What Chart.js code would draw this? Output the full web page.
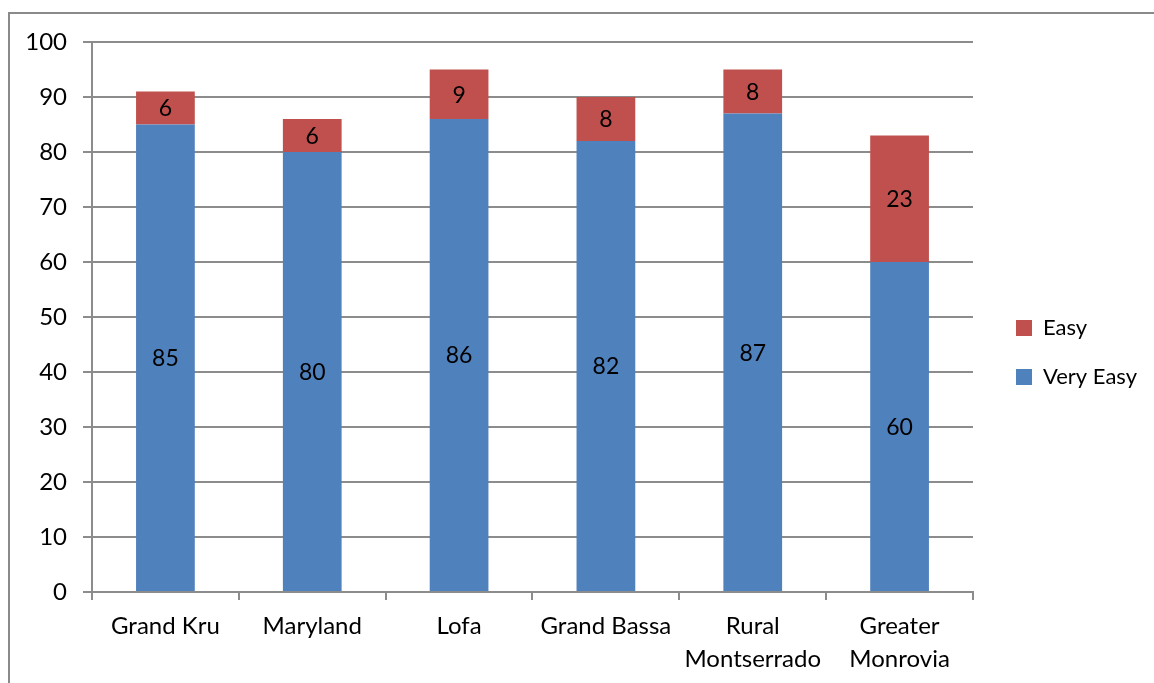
<!DOCTYPE html>
<html>
<head>
<meta charset="utf-8">
<script src="https://cdn.jsdelivr.net/npm/chart.js@4"></script>
<style>
  body { margin: 0; background: #fff; }
  #wrap { position: relative; width: 1154px; height: 683px; overflow: hidden; }
  #frame { position: absolute; left: 8px; top: 12px; width: 1300px; height: 800px;
           border-left: 2px solid #8a8a8a; border-top: 2px solid #8a8a8a; }
  canvas { position: absolute; left: 0; top: 0; }
</style>
</head>
<body>
<div id="wrap">
  <div id="frame"></div>
  <canvas id="chart1" width="1154" height="683"></canvas>
</div>
<script>
// counties and the two answer shares
var counties = ["Grand Kru", "Maryland", "Lofa", "Grand Bassa", ["Rural", "Montserrado"], ["Greater", "Monrovia"]];
var veryEasy = [85, 80, 86, 82, 87, 60];
var easy = [6, 6, 9, 8, 8, 23];
var yTicks = [0, 10, 20, 30, 40, 50, 60, 70, 80, 90, 100];

var FONT = "Lato";
var gridColor = "#8c8c8c";

// writes the value in the middle of each bar piece
var segmentLabels = {
    id: "segmentLabels",
    afterDatasetsDraw: function(chart) {
        var ctx = chart.ctx;
        ctx.save();
        ctx.font = "23px " + FONT;
        ctx.fillStyle = "#000";
        ctx.textAlign = "center";
        ctx.textBaseline = "middle";
        chart.data.datasets.forEach(function(ds, i) {
            var meta = chart.getDatasetMeta(i);
            meta.data.forEach(function(bar, j) {
                var p = bar.getProps(["x", "y", "base"], true);
                ctx.fillText(ds.data[j], p.x, (p.y + p.base) / 2 + 1);
            });
        });
        ctx.restore();
    }
};

// push the legend away from the plot and up a little
var legendGap = {
    id: "legendGap",
    afterLayout: function(chart) {
        chart.legend.left += 16;
        chart.legend.right += 16;
        chart.legend.top -= 10;
        chart.legend.bottom -= 10;
    }
};

var myChart = document.getElementById("chart1").getContext("2d");
var chart = new Chart(myChart, {
    type: "bar",
    data: {
        labels: counties,
        datasets: [
            {
                label: "Very Easy",
                data: veryEasy,
                backgroundColor: "#4f81bd",
                barPercentage: 0.4,
                categoryPercentage: 1
            },
            {
                label: "Easy",
                data: easy,
                backgroundColor: "#c0504d",
                barPercentage: 0.4,
                categoryPercentage: 1
            }
        ]
    },
    options: {
        responsive: false,
        animation: false,
        layout: { padding: { left: 0, top: 42, right: 23, bottom: 0 } },
        plugins: {
            tooltip: { enabled: false },
            legend: {
                position: "right",
                reverse: true,
                labels: {
                    font: { family: FONT, size: 22 },
                    color: "#000",
                    boxWidth: 16,
                    boxHeight: 16,
                    padding: 27
                }
            }
        },
        scales: {
            x: {
                stacked: true,
                afterFit: function(scale) { scale.height = 91; },
                grid: { display: true, drawOnChartArea: false, color: gridColor, tickLength: 8, lineWidth: 2 },
                border: { color: gridColor, width: 2 },
                ticks: { color: "#000", font: { family: FONT, size: 24, lineHeight: 1.375 }, padding: 10, maxRotation: 0 }
            },
            y: {
                stacked: true,
                min: 0,
                max: 100,
                afterFit: function(scale) { scale.width = 92; },
                afterBuildTicks: function(scale) {
                    scale.ticks = yTicks.map(function(v) { return { value: v }; });
                },
                grid: { color: gridColor, tickLength: 9, lineWidth: 2 },
                border: { color: gridColor, width: 2 },
                ticks: { color: "#000", font: { family: FONT, size: 24 }, padding: 16 }
            }
        }
    },
    plugins: [segmentLabels, legendGap]
});
</script>
</body>
</html>
